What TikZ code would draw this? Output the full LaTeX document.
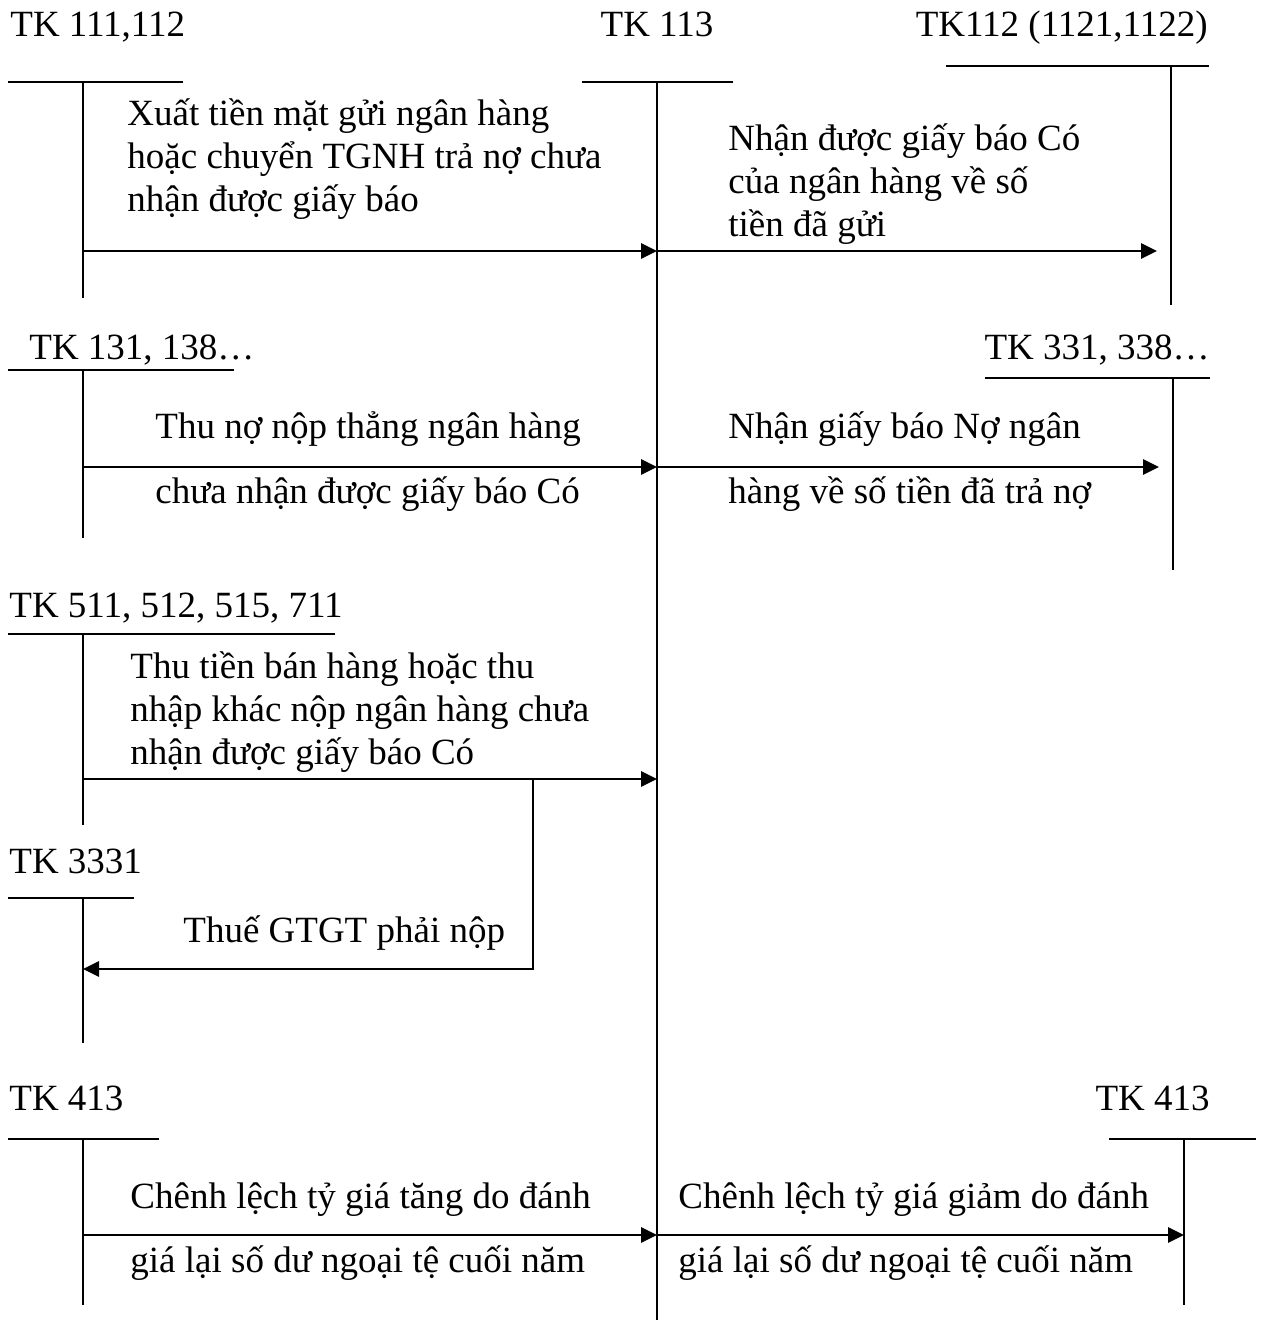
\documentclass[tikz,border=0pt]{standalone}
\usepackage{fontspec}
\setmainfont{Liberation Serif}
\usetikzlibrary{arrows.meta}
\tikzset{
  tline/.style={line width=1pt},
  flow/.style={line width=1.4pt,-{Triangle[length=8pt,width=7.5pt]}},
  acc/.style={inner sep=0pt,anchor=base west},
  note/.style={inner sep=0pt,anchor=base west,align=left},
}
\begin{document}
\begin{tikzpicture}[x=0.5pt,y=-0.5pt,font=\fontsize{18.5}{21.5}\selectfont]
  \useasboundingbox (0,0) rectangle (1262,1328);
  % accounts
  \node[acc] (tk111) at (10,36) {TK 111,112};
  \node[acc,anchor=base] (tk113) at (657,36) {TK 113};
  \node[acc,anchor=base east] (tk112) at (1208,36) {TK112 (1121,1122)};
  \node[acc] (tk131) at (29,359) {TK 131, 138…};
  \node[acc,anchor=base east] (tk331) at (1210,359) {TK 331, 338…};
  \node[acc] (tk511) at (9,617) {TK 511, 512, 515, 711};
  \node[acc] (tk3331) at (9,873) {TK 3331};
  \node[acc] (tk413a) at (9,1110) {TK 413};
  \node[acc,anchor=base east] (tk413b) at (1210,1110) {TK 413};
  \coordinate (v111) at (83,82);
  \coordinate (v113) at (657,82);
  \coordinate (v112) at (1171,66);
  \coordinate (v131) at (83,370);
  \coordinate (v331) at (1173,378);
  \coordinate (v511) at (83,634);
  \coordinate (v3331) at (83,898);
  \coordinate (v413a) at (83,1139);
  \coordinate (v413b) at (1184,1139);
  \draw[tline] (8,82) -- (183,82) (v111) -- (83,298);
  \draw[tline] (582,82) -- (733,82) (v113) -- (657,1320);
  \draw[tline] (946,66) -- (1209,66) (v112) -- (1171,305);
  \draw[tline] (8,370) -- (234,370) (v131) -- (83,538);
  \draw[tline] (985,378) -- (1210,378) (v331) -- (1173,570);
  \draw[tline] (8,634) -- (335,634) (v511) -- (83,825);
  \draw[tline] (8,898) -- (134,898) (v3331) -- (83,1043);
  \draw[tline] (8,1139) -- (159,1139) (v413a) -- (83,1305);
  \draw[tline] (1109,1139) -- (1256,1139) (v413b) -- (1184,1305);
  % arrows
  \coordinate (r1) at (0,251);
  \coordinate (r2) at (0,467);
  \coordinate (r3) at (0,779);
  \coordinate (r4) at (0,969);
  \coordinate (r5) at (0,1235);
  \coordinate (tax) at (533,779);
  \draw[flow] (v111 |- r1) -- (v113 |- r1);
  \draw[flow] (v113 |- r1) -- ([xshift=-7pt]v112 |- r1);
  \draw[flow] (v131 |- r2) -- (v113 |- r2);
  \draw[flow] (v113 |- r2) -- ([xshift=-7pt]v331 |- r2);
  \draw[flow] (v511 |- r3) -- (v113 |- r3);
  \draw[flow] (tax) |- (v3331 |- r4);
  \draw[flow] (v413a |- r5) -- (v113 |- r5);
  \draw[flow] (v113 |- r5) -- (v413b |- r5);
  % text (base = last line)
  \node[note] (n1) at (127,211) {Xuất tiền mặt gửi ngân hàng\\hoặc chuyển TGNH trả nợ chưa\\nhận được giấy báo};
  \node[note] (n2) at (728,236) {Nhận được giấy báo Có\\của ngân hàng về số\\tiền đã gửi};
  \node[note] (n3a) at (155,438) {Thu nợ nộp thẳng ngân hàng};
  \node[note] (n3b) at (155,503) {chưa nhận được giấy báo Có};
  \node[note] (n4a) at (728,438) {Nhận giấy báo Nợ ngân};
  \node[note] (n4b) at (728,503) {hàng về số tiền đã trả nợ};
  \node[note] (n5) at (130,764) {Thu tiền bán hàng hoặc thu\\nhập khác nộp ngân hàng chưa\\nhận được giấy báo Có};
  \node[note] (n6) at (183,942) {Thuế GTGT phải nộp};
  \node[note] (n7a) at (130,1208) {Chênh lệch tỷ giá tăng do đánh};
  \node[note] (n7b) at (130,1272) {giá lại số dư ngoại tệ cuối năm};
  \node[note] (n8a) at (678,1208) {Chênh lệch tỷ giá giảm do đánh};
  \node[note] (n8b) at (678,1272) {giá lại số dư ngoại tệ cuối năm};
\end{tikzpicture}
\end{document}
